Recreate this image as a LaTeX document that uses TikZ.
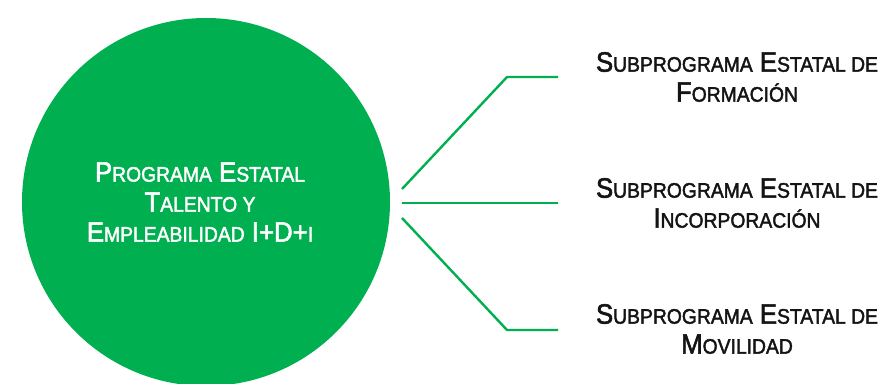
\documentclass[tikz,border=0pt]{standalone}
\usepackage{fontspec}
\setmainfont{Liberation Sans}[FakeStretch=0.92,FakeBold=2]
\definecolor{grn}{HTML}{00B050}
\definecolor{ink}{HTML}{141414}
\newcommand\Lsc[1]{{\fontsize{21}{30}\selectfont #1}}
\begin{document}
\begin{tikzpicture}[x=1pt,y=-1pt,
  bigtxt/.style={align=center,inner sep=0pt,font=\fontsize{28}{30}\selectfont},
  subtxt/.style={bigtxt,text=ink},
  conn/.style={draw=grn,line width=2.4pt}]
\useasboundingbox (0,0) rectangle (886,383);
\clip (0,0) rectangle (886,383);
\node[circle,fill=grn,minimum size=368pt,inner sep=0pt] (prog) at (206,202) {};
\node[bigtxt,text=white] (progtxt) at (200,202)
  {P\Lsc{ROGRAMA} E\Lsc{STATAL}\\T\Lsc{ALENTO Y}\\E\Lsc{MPLEABILIDAD} I+D+\Lsc{I}};
\node[subtxt] (s1) at (737,77) {S\Lsc{UBPROGRAMA} E\Lsc{STATAL DE}\\F\Lsc{ORMACIÓN}};
\node[subtxt] (s2) at (737,203) {S\Lsc{UBPROGRAMA} E\Lsc{STATAL DE}\\I\Lsc{NCORPORACIÓN}};
\node[subtxt] (s3) at (737,329) {S\Lsc{UBPROGRAMA} E\Lsc{STATAL DE}\\M\Lsc{OVILIDAD}};
\coordinate (a1) at (402,189);
\coordinate (b1) at (507,77);
\coordinate (c1) at (558,77);
\coordinate (a2) at (402,203);
\coordinate (c2) at (558,203);
\coordinate (a3) at (402,218);
\coordinate (b3) at (507,330);
\coordinate (c3) at (558,330);
\draw[conn] (a1) -- (b1) -- (c1);
\draw[conn] (a2) -- (c2);
\draw[conn] (a3) -- (b3) -- (c3);
\end{tikzpicture}
\end{document}
